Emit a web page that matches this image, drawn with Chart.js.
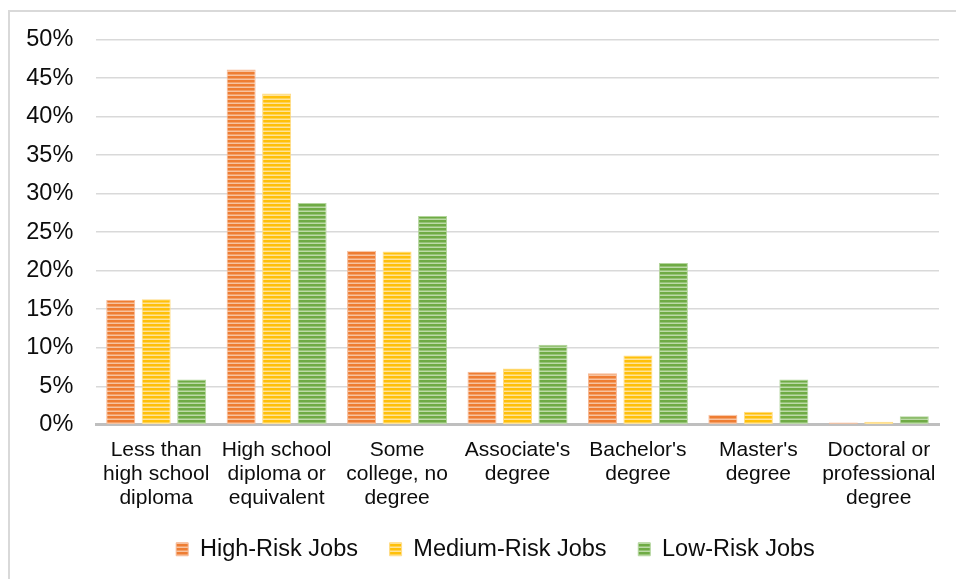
<!DOCTYPE html>
<html>
<head>
<meta charset="utf-8">
<script src="https://cdn.jsdelivr.net/npm/chart.js@4"></script>
<style>
  html, body { margin: 0; padding: 0; background: #fff; }
  #wrap { position: relative; width: 956px; height: 579px; overflow: hidden; }
  #frame { position: absolute; left: 8px; top: 10px; right: -4px; bottom: -4px;
           border-left: 2px solid #d9d9d9; border-top: 2px solid #d9d9d9; }
  #c { position: absolute; left: 0; top: 0; }
</style>
</head>
<body>
<div id="wrap">
  <div id="frame"></div>
  <canvas id="c" width="956" height="579"></canvas>
</div>
<script>
const categories = [
  ["Less than", "high school", "diploma"],
  ["High school", "diploma or", "equivalent"],
  ["Some", "college, no", "degree"],
  ["Associate's", "degree"],
  ["Bachelor's", "degree"],
  ["Master's", "degree"],
  ["Doctoral or", "professional", "degree"]
];
const seriesNames = ["High-Risk Jobs", "Medium-Risk Jobs", "Low-Risk Jobs"];
const highRisk = [16.2, 46.1, 22.6, 6.9, 6.7, 1.3, 0.3];
const mediumRisk = [16.3, 43.0, 22.5, 7.3, 9.0, 1.7, 0.4];
const lowRisk = [5.9, 28.8, 27.1, 10.4, 21.0, 5.9, 1.1];
const yTicks = [0, 5, 10, 15, 20, 25, 30, 35, 40, 45, 50];

const FONT = "'Liberation Sans', Arial, sans-serif";

// horizontal striped fill like the original bars
function stripes(base, light) {
  const c = document.createElement("canvas");
  c.width = 4;
  c.height = 4;
  const g = c.getContext("2d");
  g.fillStyle = base;
  g.fillRect(0, 0, 4, 4);
  g.fillStyle = light;
  g.fillRect(0, 2.5, 4, 1.5);
  return g.createPattern(c, "repeat");
}

const colors = [
  { fill: stripes("#ee7d33", "#f7c3a0"), edge: "#f6b894" },
  { fill: stripes("#ffc00a", "#ffe39a"), edge: "#ffdc86" },
  { fill: stripes("#6fab45", "#bcdaa7"), edge: "#b3d59c" }
];

// nudge the legend row to where the original sits
const legendShift = {
  id: "legendShift",
  afterLayout(chart) {
    const l = chart.legend;
    if (!l) return;
    l.left += 26;
    l.right += 26;
    l.top -= 8;
    l.bottom -= 8;
  }
};

const ctx = document.getElementById("c");
new Chart(ctx, {
  type: "bar",
  data: {
    labels: categories,
    datasets: [highRisk, mediumRisk, lowRisk].map((d, i) => ({
      label: seriesNames[i],
      data: d,
      backgroundColor: colors[i].fill,
      borderColor: colors[i].edge,
      borderWidth: 1,
      categoryPercentage: 0.884,
      barPercentage: 0.817
    }))
  },
  options: {
    responsive: false,
    animation: false,
    devicePixelRatio: 1,
    layout: { padding: { top: 39.5, right: 17, bottom: 0, left: 0 } },
    scales: {
      x: {
        grid: { display: false, drawTicks: false },
        border: { display: true, color: "#bfbfbf", width: 3 },
        ticks: {
          color: "#0d0d0d",
          padding: 13,
          maxRotation: 0,
          autoSkip: false,
          font: { family: FONT, size: 21, lineHeight: 1.143 }
        },
        afterFit: (s) => { s.height = 89; }
      },
      y: {
        min: 0,
        max: 50,
        afterBuildTicks: (s) => { s.ticks = yTicks.map((v) => ({ value: v })); },
        grid: { color: "#d9d9d9", lineWidth: 1.5, drawTicks: false },
        border: { display: false },
        ticks: {
          color: "#0d0d0d",
          padding: 22.7,
          font: { family: FONT, size: 23.5 },
          callback: (v) => v + "%"
        },
        afterFit: (s) => { s.width = 96; }
      }
    },
    plugins: {
      tooltip: { enabled: false },
      legend: {
        position: "bottom",
        labels: {
          color: "#0d0d0d",
          boxWidth: 12,
          boxHeight: 13,
          padding: 31.65,
          font: { family: FONT, size: 23.5 }
        }
      }
    }
  },
  plugins: [legendShift]
});
</script>
</body>
</html>
